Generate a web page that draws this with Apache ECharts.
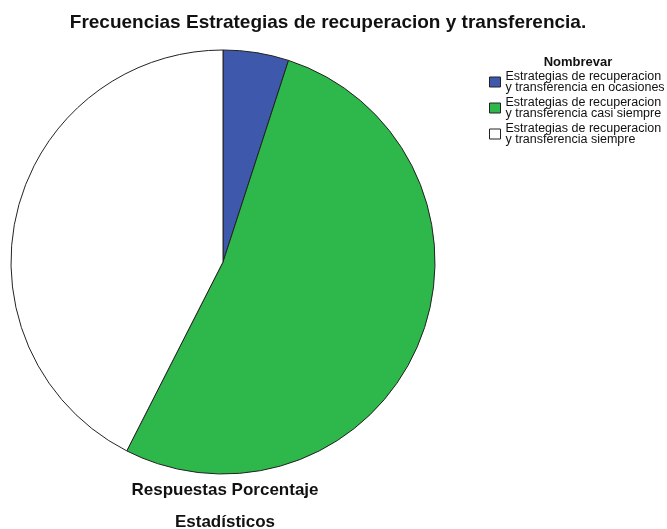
<!DOCTYPE html>
<html lang="es">
<head>
<meta charset="UTF-8">
<title>Frecuencias Estrategias</title>
<script src="https://cdn.jsdelivr.net/npm/echarts@6/dist/echarts.min.js"></script>
<style>
  html, body { margin: 0; padding: 0; background: #fff; }
  #main { width: 667px; height: 529px; }
</style>
</head>
<body>
<div id="main"></div>
<script>
    // categorias y porcentajes
    var categorias = [
        'Estrategias de recuperacion y transferencia en ocasiones',
        'Estrategias de recuperacion y transferencia casi siempre',
        'Estrategias de recuperacion y transferencia siempre'
    ];
    var porcentajes = [5, 52.5, 42.5];
    var colores = ['#3e59ab', '#2eb84c', '#ffffff'];

    var datos = [];
    for (var i = 0; i < categorias.length; i++) {
        datos.push({ name: categorias[i], value: porcentajes[i], itemStyle: { color: colores[i] } });
    }

    var myChart = echarts.init(document.getElementById('main'));
    var option = {
        animation: false,
        title: [{
            text: 'Frecuencias Estrategias de recuperacion y transferencia.',
            left: 323,
            top: 8,
            textAlign: 'center',
            textStyle: { fontFamily: 'Liberation Sans', fontSize: 19, fontWeight: 'bold', color: '#111' }
        }, {
            text: 'Nombrevar',
            left: 573,
            top: 51,
            textAlign: 'center',
            textStyle: { fontFamily: 'Liberation Sans', fontSize: 13, fontWeight: 'bold', color: '#111' }
        }, {
            text: 'Respuestas Porcentaje',
            left: 220,
            top: 477,
            textAlign: 'center',
            textStyle: { fontFamily: 'Liberation Sans', fontSize: 17, fontWeight: 'bold', color: '#111' }
        }, {
            text: 'Estadísticos',
            left: 220,
            top: 509,
            textAlign: 'center',
            textStyle: { fontFamily: 'Liberation Sans', fontSize: 17, fontWeight: 'bold', color: '#111' }
        }],
        legend: {
            orient: 'vertical',
            left: 484,
            top: 65,
            icon: 'rect',
            itemWidth: 11,
            itemHeight: 10,
            itemGap: 2,
            selectedMode: false,
            data: categorias,
            formatter: function (name) {
                var corte = 'Estrategias de recuperacion'.length;
                return name.slice(0, corte) + '\n' + name.slice(corte + 1);
            },
            itemStyle: { borderColor: '#222', borderWidth: 1 },
            textStyle: { fontFamily: 'Liberation Sans', fontSize: 12.5, lineHeight: 11, color: '#111' }
        },
        series: [{
            type: 'pie',
            center: [223, 262],
            radius: 212,
            startAngle: 90,
            clockwise: true,
            label: { show: false },
            labelLine: { show: false },
            emphasis: { disabled: true },
            itemStyle: { borderColor: '#222', borderWidth: 1 },
            data: datos
        }]
    };
    myChart.setOption(option);
</script>
</body>
</html>
